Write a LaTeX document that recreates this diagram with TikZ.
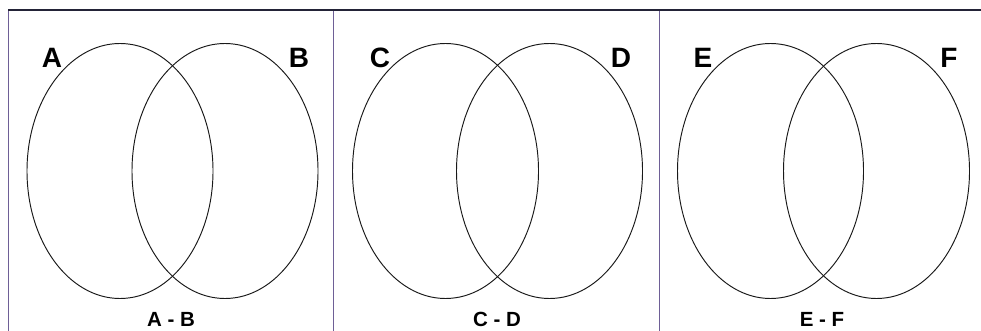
\documentclass[tikz,border=0pt]{standalone}
\usepackage{fontspec}
\setmainfont{Liberation Sans}
\usetikzlibrary{shapes.geometric}
\definecolor{frametop}{RGB}{35,35,55}
\definecolor{framev}{RGB}{110,95,150}
\begin{document}
\begin{tikzpicture}[x=1pt,y=-1pt,
  setel/.style={draw=black!90, line width=0.95pt, ellipse, inner sep=0pt,
    minimum width=186pt, minimum height=255pt},
  setlbl/.style={font=\fontsize{28}{28}\selectfont\bfseries, inner sep=0pt, anchor=base},
  difflbl/.style={font=\fontsize{20.5}{20.5}\selectfont\bfseries, inner sep=0pt, anchor=base},
  topline/.style={draw=frametop, line width=1.8pt},
  vline/.style={draw=framev, line width=1pt}]
\useasboundingbox (0,0) rectangle (981,331);
\fill[white] (0,0) rectangle (981,331);
% frame
\coordinate (tl) at (8,10);
\coordinate (tr) at (981,10);
\coordinate (bl) at (8,331);
\coordinate (d1t) at (333,10);
\coordinate (d1b) at (333,331);
\coordinate (d2t) at (659,10);
\coordinate (d2b) at (659,331);
\draw[vline] (tl) -- (bl);
\draw[vline] (d1t) -- (d1b);
\draw[vline] (d2t) -- (d2b);
\draw[topline] (tl) -- (tr);
% panel 1
\node[setel] (eA) at (120,171) {};
\node[setel] (eB) at (225,171) {};
\node[setlbl] (lA) at (52,68) {A};
\node[setlbl] (lB) at (299,68) {B};
\node[difflbl] (dAB) at (171,326) {A - B};
% panel 2
\node[setel] (eC) at (445.5,171) {};
\node[setel] (eD) at (549.5,171) {};
\node[setlbl] (lC) at (380,68) {C};
\node[setlbl] (lD) at (621,68) {D};
\node[difflbl] (dCD) at (497,326) {C - D};
% panel 3
\node[setel] (eE) at (770.5,171) {};
\node[setel] (eF) at (876.5,171) {};
\node[setlbl] (lE) at (703,68) {E};
\node[setlbl] (lF) at (949,68) {F};
\node[difflbl] (dEF) at (822,326) {E - F};
\end{tikzpicture}
\end{document}
